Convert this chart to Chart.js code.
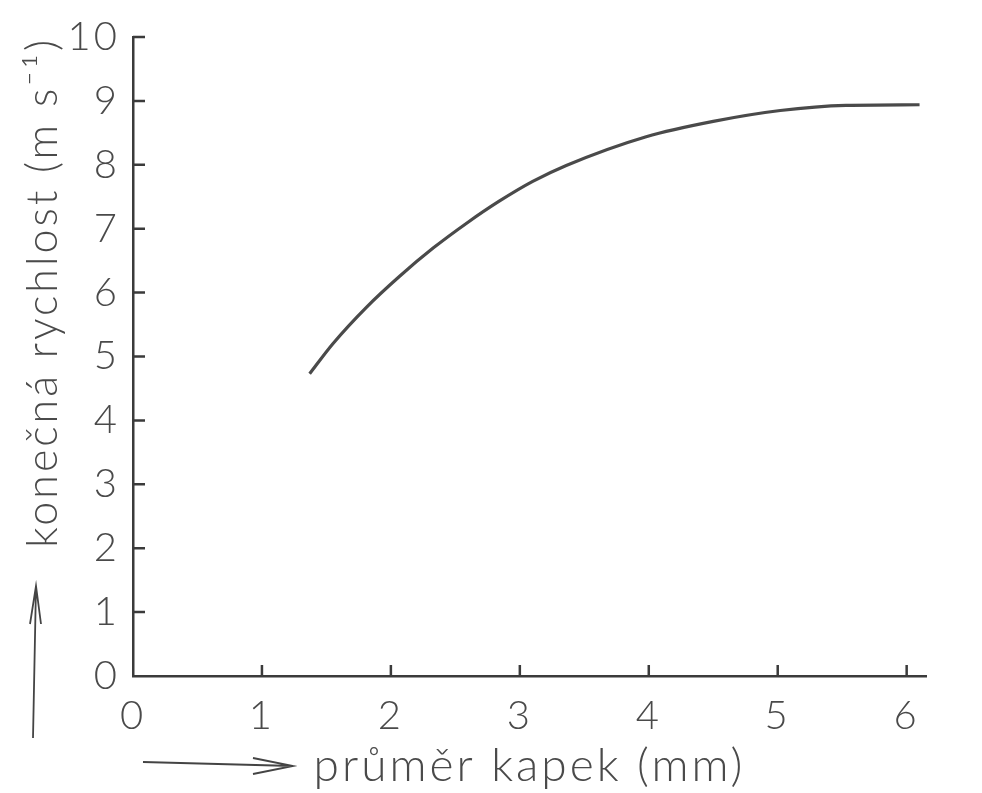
<!DOCTYPE html>
<html>
<head>
<meta charset="utf-8">
<script src="https://cdn.jsdelivr.net/npm/chart.js@4"></script>
<style>
	html, body { margin: 0; padding: 0; background: #fff; }
	.chart { width: 982px; height: 793px; }
</style>
</head>
<body>
<div class="chart"><canvas class="chart__canvas"></canvas></div>
<script>
// průměr kapek (mm) / konečná rychlost (m s-1)
const diameter = [1.37, 1.55, 1.81, 2.07, 2.33, 2.59, 2.84, 3.10, 3.36, 3.98, 4.50, 5.02, 5.53, 6.10];
const velocity = [4.73, 5.20, 5.77, 6.26, 6.70, 7.09, 7.43, 7.74, 7.99, 8.44, 8.68, 8.85, 8.93, 8.94];
const xTicks = [0, 1, 2, 3, 4, 5, 6];
const yTicks = [0, 1, 2, 3, 4, 5, 6, 7, 8, 9, 10];

const ink = "#3b3b3b";
const textInk = "#4a4a4a";
const fontFamily = "Lato, 'Liberation Sans', Arial, sans-serif";

// the lettering on the drawing is spaced out a little
const spacing = {
	id: "spacing",
	beforeDraw(chart) {
		chart.ctx.letterSpacing = "3px";
	},
};

// short tick marks pointing into the plot, like the hand drawn axes
const innerTicks = {
	id: "innerTicks",
	afterDraw(chart) {
		const ctx = chart.ctx;
		const { x, y } = chart.scales;
		const area = chart.chartArea;
		ctx.save();
		ctx.strokeStyle = ink;
		ctx.lineWidth = 2.5;
		ctx.beginPath();
		xTicks.slice(1).forEach((v) => {
			const px = x.getPixelForValue(v);
			ctx.moveTo(px, area.bottom);
			ctx.lineTo(px, area.bottom - 11);
		});
		yTicks.slice(1).forEach((v) => {
			const py = y.getPixelForValue(v);
			ctx.moveTo(area.left, py);
			ctx.lineTo(area.left + 12, py);
		});
		ctx.stroke();

		// arrows next to the axis titles
		ctx.strokeStyle = "#444";
		ctx.lineWidth = 1.8;
		ctx.beginPath();
		const ax = 36;
		const aTop = area.bottom - 90;
		ctx.moveTo(ax - 3, area.bottom + 62);
		ctx.lineTo(ax, aTop);
		ctx.moveTo(ax - 6, aTop + 38);
		ctx.lineTo(ax, aTop);
		ctx.lineTo(ax + 5, aTop + 38);
		const hy = area.bottom + 90;
		const hEnd = area.left + 160;
		ctx.moveTo(area.left + 10, hy - 4);
		ctx.lineTo(hEnd, hy);
		ctx.moveTo(hEnd - 40, hy - 8);
		ctx.lineTo(hEnd, hy);
		ctx.lineTo(hEnd - 40, hy + 8);
		ctx.stroke();
		ctx.restore();
	},
};

function setTicks(values) {
	return (scale) => {
		scale.ticks = values.map((v) => ({ value: v }));
	};
}

const config = {
	type: "line",
	data: {
		datasets: [
			{
				data: diameter.map((d, i) => ({ x: d, y: velocity[i] })),
				borderColor: "#4a4a4a",
				borderWidth: 3.2,
				pointRadius: 0,
				cubicInterpolationMode: "monotone",
				fill: false,
			},
		],
	},
	options: {
		responsive: false,
		animation: false,
		layout: { padding: { top: 33, right: 56, left: 0, bottom: 0 } },
		plugins: { legend: { display: false }, tooltip: { enabled: false } },
		scales: {
			x: {
				type: "linear",
				min: 0,
				max: 6.15,
				afterBuildTicks: setTicks(xTicks),
				afterFit: (scale) => { scale.height = 117; },
				grid: { display: false, drawTicks: false },
				border: { display: true, color: ink, width: 2.5 },
				ticks: {
					padding: 16,
					color: textInk,
					font: { family: fontFamily, size: 40, weight: 300 },
				},
				title: {
					display: true,
					text: "průměr kapek (mm)",
					color: textInk,
					font: { family: fontFamily, size: 46, weight: 300, lineHeight: 1.1 },
					padding: { top: 0, bottom: 2 },
				},
			},
			y: {
				min: 0,
				max: 10,
				afterBuildTicks: setTicks(yTicks),
				afterFit: (scale) => { scale.width = 133; },
				grid: { display: false, drawTicks: false },
				border: { display: true, color: ink, width: 2.5 },
				ticks: {
					padding: 13,
					color: textInk,
					font: { family: fontFamily, size: 40, weight: 300 },
				},
				title: {
					display: true,
					text: "konečná rychlost (m s⁻¹)",
					align: "end",
					color: textInk,
					font: { family: fontFamily, size: 43, weight: 300, lineHeight: 1.1 },
					padding: { top: 19, bottom: 0 },
				},
			},
		},
	},
	plugins: [spacing, innerTicks],
};

const canvas = document.querySelector(".chart__canvas");
canvas.width = 982;
canvas.height = 793;
new Chart(canvas, config);
</script>
</body>
</html>
